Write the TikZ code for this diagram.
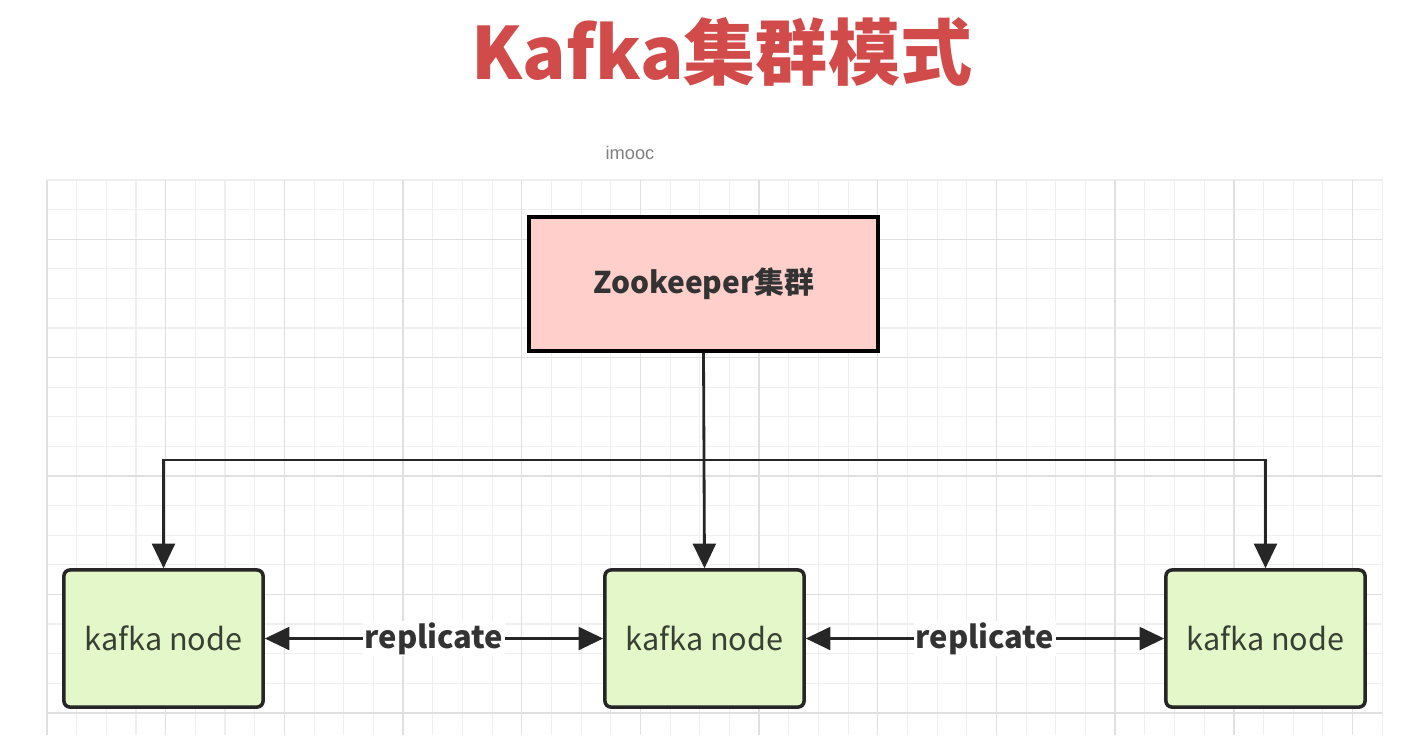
\documentclass[tikz,border=0pt]{standalone}
\usepackage{fontspec}
\usepackage{xcolor}
\usepackage{tikz}
\usetikzlibrary{arrows.meta, positioning, calc}
\setmainfont{Noto Sans CJK SC}
\newfontfamily\wmfont{Liberation Sans}
\definecolor{titlered}{HTML}{D24B4B}
\definecolor{zkfill}{HTML}{FFD0CB}
\definecolor{nodefill}{HTML}{E4F7C8}
\definecolor{gridminor}{HTML}{EFEFEF}
\definecolor{gridmajor}{HTML}{E0E0E0}
\definecolor{inktext}{HTML}{333333}
\definecolor{kafkatext}{HTML}{384034}

\begin{document}
\begin{tikzpicture}[x=0.01cm, y=-0.01cm,
    zkbox/.style={draw=black, fill=zkfill, line width=1pt,
      minimum width=3.49cm, minimum height=1.34cm,
      font=\fontsize{8.5}{10}\selectfont\bfseries, text=inktext},
    kafkabox/.style={draw=black!85, fill=nodefill, line width=1pt,
      rounded corners=0.06cm, minimum width=1.99cm, minimum height=1.37cm,
      font=\fontsize{8.7}{10}\selectfont, text=kafkatext},
    conn/.style={draw=black!85, line width=0.8pt,
      -{Triangle[length=7pt, width=6.5pt]}},
    biconn/.style={draw=black!85, line width=0.8pt,
      {Triangle[length=7pt, width=6.5pt]}-{Triangle[length=7pt, width=6.5pt]}},
    replabel/.style={fill=white, inner sep=0.5pt,
      font=\fontsize{8.8}{10}\selectfont\bfseries, text=inktext}]
    % Page area
    \useasboundingbox[fill=white] (0,0) rectangle (1402,747);
    % Background grid (minor, then major every fourth line)
    \foreach \gi in {0,...,45} {
      \draw[gridminor, line width=0.3pt] ({47+\gi*29.67},180) -- ({47+\gi*29.67},735);
    }
    \foreach \gj in {0,...,18} {
      \draw[gridminor, line width=0.3pt] (47,{180+\gj*29.6}) -- (1382,{180+\gj*29.6});
    }
    \foreach \gi in {0,4,...,44} {
      \draw[gridmajor, line width=0.4pt] ({47+\gi*29.67},180) -- ({47+\gi*29.67},735);
    }
    \foreach \gj in {2,6,...,18} {
      \draw[gridmajor, line width=0.4pt] (47,{180+\gj*29.6}) -- (1382,{180+\gj*29.6});
    }
    % Title and watermark
    \node[text=titlered, font=\fontsize{20.5}{24}\selectfont\bfseries] (title) at (722,52) {Kafka集群模式};
    \node[text=black!50, font=\wmfont\fontsize{5.2}{6}\selectfont] (mark) at (630,153) {imooc};
    % Coordinator
    \node[zkbox] (zk) at (703.5,284) {Zookeeper集群};
    % Brokers
    \node[kafkabox] (k1) at (163.5,638.5) {kafka node};
    \node[kafkabox] (k2) at (704.5,638.5) {kafka node};
    \node[kafkabox] (k3) at (1265.5,638.5) {kafka node};
    % Fan-out from Zookeeper
    \coordinate (bus) at (704,460);
    \draw[conn] (zk.south) -- (k2.north);
    \draw[conn] (bus) -| (k1.north);
    \draw[conn] (bus) -| (k3.north);
    % Replication links
    \draw[biconn] (k1.east) -- node[replabel] {replicate} (k2.west);
    \draw[biconn] (k2.east) -- node[replabel] {replicate} (k3.west);
  \end{tikzpicture}
\end{document}
